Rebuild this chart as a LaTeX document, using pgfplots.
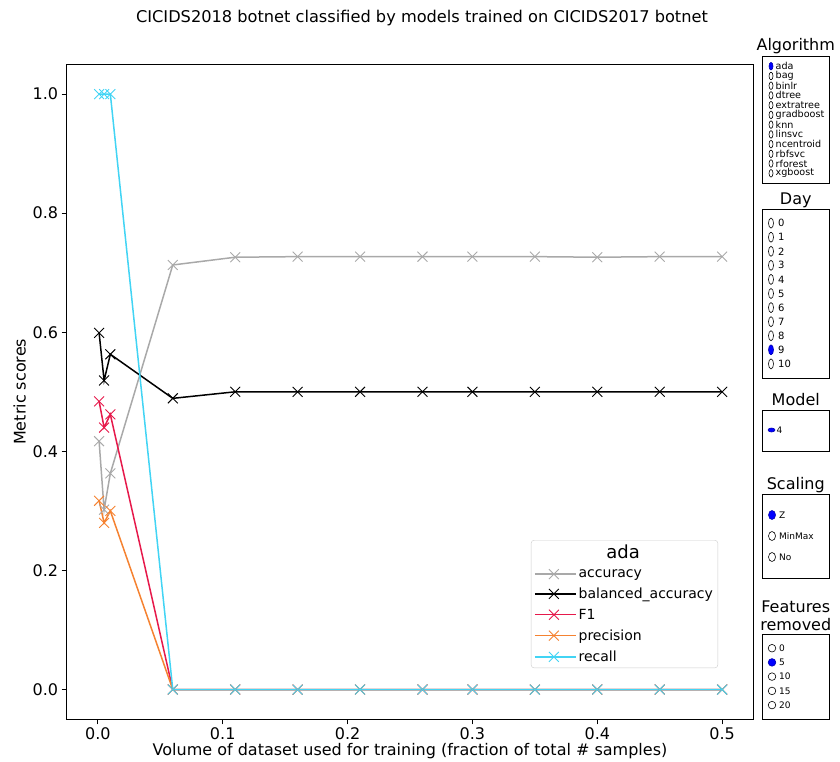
\documentclass[border=0pt]{standalone}
\usepackage{pgfplots}
\usepackage{pgfplotstable}
\pgfplotsset{compat=1.18}
\usepackage{fontspec}
\setmainfont{DejaVu Sans}

\definecolor{cacc}{HTML}{A9A9A9}
\definecolor{cbal}{HTML}{000000}
\definecolor{cfone}{HTML}{E6194B}
\definecolor{cprec}{HTML}{F58231}
\definecolor{crec}{HTML}{42D4F4}
\definecolor{legframe}{HTML}{CCCCCC}

% metric scores for the ada model against training volume
\pgfplotstableread{
frac    acc    bal    fone   prec   rec
0.001   0.417  0.599  0.484  0.317  1.0
0.005   0.302  0.519  0.440  0.280  1.0
0.010   0.363  0.563  0.462  0.300  1.0
0.060   0.713  0.489  0.0    0.0    0.0
0.110   0.726  0.500  0.0    0.0    0.0
0.160   0.727  0.500  0.0    0.0    0.0
0.210   0.727  0.500  0.0    0.0    0.0
0.260   0.727  0.500  0.0    0.0    0.0
0.300   0.727  0.500  0.0    0.0    0.0
0.350   0.727  0.500  0.0    0.0    0.0
0.400   0.726  0.500  0.0    0.0    0.0
0.450   0.727  0.500  0.0    0.0    0.0
0.500   0.727  0.500  0.0    0.0    0.0
}\scores

\newcommand\tickfont{\fontsize{16}{19}\selectfont}
\newcommand\panelfont{\fontsize{9.6}{11}\selectfont}
\newcommand\dayfont{\fontsize{10}{12}\selectfont}
\newcommand\smallpanelfont{\fontsize{9}{11}\selectfont}

\tikzset{optlabel/.style={anchor=west, inner sep=0pt}}

\pgfplotsset{
  radiopanel/.style={
    scale only axis, clip=false,
    xmin=762.5, xmax=829,
    y dir=reverse,
    xtick=\empty, ytick=\empty,
    axis line style={black, line width=0.8pt},
    title style={font=\fontsize{16}{19}\selectfont, at={(0.5,1)}, anchor=base, inner sep=0pt},
  },
  radio/.style={
    only marks, mark=*, mark size=1pt,
    mark options={draw=black, fill=white, line width=0.6pt, #1},
  },
  radioon/.style={
    only marks, mark=*, mark size=1pt,
    mark options={draw=blue!70!black, fill=blue, line width=0.6pt, #1},
  },
}

\begin{document}
\begin{tikzpicture}
\useasboundingbox (0pt,0pt) rectangle (840pt,-762pt);

\node[font=\fontsize{16.2}{19}\selectfont, anchor=center] at (422pt,-18pt)
  {CICIDS2018 botnet classified by models trained on CICIDS2017 botnet};

\begin{axis}[
  at={(66.7pt,-719.3pt)}, anchor=south west,
  scale only axis, width=686.6pt, height=655pt,
  xmin=-0.02495, xmax=0.52495, ymin=-0.05, ymax=1.05,
  xtick={0,0.1,0.2,0.3,0.4,0.5},
  ytick={0,0.2,0.4,0.6,0.8,1.0},
  xticklabels={0.0,0.1,0.2,0.3,0.4,0.5},
  yticklabels={0.0,0.2,0.4,0.6,0.8,1.0},
  xtick pos=bottom, ytick pos=left,
  tick align=outside, major tick length=5pt,
  tick style={black, line width=0.8pt},
  axis line style={black, line width=0.8pt},
  tick label style={font=\tickfont},
  xlabel={Volume of dataset used for training (fraction of total \# samples)},
  ylabel={Metric scores},
  label style={font=\tickfont},
  xlabel style={yshift=3pt},
  mark size=7pt,
  legend cell align=left,
  legend style={
    at={(0.9486,0.2737)}, anchor=north east,
    draw=legframe, rounded corners=3pt, fill=white,
    font=\fontsize{14}{16}\selectfont,
    row sep=5pt, inner sep=3pt,
  },
  legend image code/.code={
    \path (0pt,0pt) -- (41pt,0pt);
    \draw[mark repeat=2, mark phase=2, #1]
      plot coordinates {(3pt,0pt) (19pt,0pt) (35pt,0pt)};
  },
]
\addlegendimage{empty legend}
\addlegendentry{\makebox[89pt][c]{\fontsize{18}{21}\selectfont\rule[-5pt]{0pt}{17pt}ada}}

\addplot[color=cacc, line width=1.5pt, mark=x, mark options={solid, line width=0.9pt}]
  table[x=frac, y=acc] {\scores};
\addlegendentry{accuracy}
\addplot[color=cbal, line width=1.5pt, mark=x, mark options={solid, line width=0.9pt}]
  table[x=frac, y=bal] {\scores};
\addlegendentry{balanced\_accuracy}
\addplot[color=cfone, line width=1.5pt, mark=x, mark options={solid, line width=0.9pt}]
  table[x=frac, y=fone] {\scores};
\addlegendentry{F1}
\addplot[color=cprec, line width=1.5pt, mark=x, mark options={solid, line width=0.9pt}]
  table[x=frac, y=prec] {\scores};
\addlegendentry{precision}
\addplot[color=crec, line width=1.5pt, mark=x, mark options={solid, line width=0.9pt}]
  table[x=frac, y=rec] {\scores};
\addlegendentry{recall}
\end{axis}

% selector panels
\begin{axis}[radiopanel,
  at={(762.5pt,-183pt)}, anchor=south west, width=66.5pt, height=126.5pt,
  ymin=56.5, ymax=183, title={Algorithm}, title style={yshift=0pt},
]
\addplot[radioon={xscale=2, yscale=3.8}] coordinates {(771,66.2)};
\addplot[radio={xscale=2, yscale=3.8}] coordinates {
  (771,76.0) (771,85.7) (771,95.4) (771,105.2) (771,114.9)
  (771,124.6) (771,134.4) (771,144.1) (771,153.8) (771,163.5)
  (771,173.3)};
\begin{scope}[every node/.style={optlabel, font=\panelfont}]
\node at (axis cs:775.5,66.2) {ada};
\node at (axis cs:775.5,76.0) {bag};
\node at (axis cs:775.5,85.7) {binlr};
\node at (axis cs:775.5,95.4) {dtree};
\node at (axis cs:775.5,105.2) {extratree};
\node at (axis cs:775.5,114.9) {gradboost};
\node at (axis cs:775.5,124.6) {knn};
\node at (axis cs:775.5,134.4) {linsvc};
\node at (axis cs:775.5,144.1) {ncentroid};
\node at (axis cs:775.5,153.8) {rbfsvc};
\node at (axis cs:775.5,163.5) {rforest};
\node at (axis cs:775.5,173.3) {xgboost};
\end{scope}
\end{axis}

\begin{axis}[radiopanel,
  at={(762.5pt,-378pt)}, anchor=south west, width=66.5pt, height=169pt,
  ymin=209, ymax=378, title={Day}, title style={yshift=-1.5pt},
]
\addplot[radio={xscale=2.5, yscale=5}] coordinates {
  (771,223.1) (771,237.2) (771,251.3) (771,265.3) (771,279.4) (771,293.5)
  (771,307.6) (771,321.7) (771,335.7) (771,363.9)};
\addplot[radioon={xscale=2.5, yscale=5}] coordinates {(771,349.8)};
\begin{scope}[every node/.style={optlabel, font=\dayfont}]
\node at (axis cs:778,223.1) {0};
\node at (axis cs:778,237.2) {1};
\node at (axis cs:778,251.3) {2};
\node at (axis cs:778,265.3) {3};
\node at (axis cs:778,279.4) {4};
\node at (axis cs:778,293.5) {5};
\node at (axis cs:778,307.6) {6};
\node at (axis cs:778,321.7) {7};
\node at (axis cs:778,335.7) {8};
\node at (axis cs:778,349.8) {9};
\node at (axis cs:778,363.9) {10};
\end{scope}
\end{axis}

\begin{axis}[radiopanel,
  at={(762.5pt,-451pt)}, anchor=south west, width=66.5pt, height=41pt,
  ymin=410, ymax=451, title={Model}, title style={yshift=-1.5pt},
]
\addplot[radioon={xscale=3.5, yscale=2}] coordinates {(771.5,430)};
\node[optlabel, font=\smallpanelfont] at (axis cs:776.5,430) {4};
\end{axis}

\begin{axis}[radiopanel,
  at={(762.5pt,-578pt)}, anchor=south west, width=66.5pt, height=84pt,
  ymin=494, ymax=578, title={Scaling}, title style={yshift=-1.5pt},
]
\addplot[radioon={xscale=3.5, yscale=4.5}] coordinates {(772,515)};
\addplot[radio={xscale=3.5, yscale=4.5}] coordinates {(772,536) (772,557)};
\begin{scope}[every node/.style={optlabel, font=\smallpanelfont}]
\node at (axis cs:779,515) {Z};
\node at (axis cs:779,536) {MinMax};
\node at (axis cs:779,557) {No};
\end{scope}
\end{axis}

\begin{axis}[radiopanel,
  at={(762.5pt,-719.3pt)}, anchor=south west, width=66.5pt, height=85.3pt,
  ymin=634, ymax=719.3, title={Features\\removed},
  title style={align=center, anchor=south, yshift=-3pt, font=\fontsize{16}{18}\selectfont},
]
\addplot[radio={xscale=3.8, yscale=3.8}] coordinates {(772,648.2) (772,676.6) (772,690.9) (772,705.1)};
\addplot[radioon={xscale=3.8, yscale=3.8}] coordinates {(772,662.4)};
\begin{scope}[every node/.style={optlabel, font=\smallpanelfont}]
\node at (axis cs:779,648.2) {0};
\node at (axis cs:779,662.4) {5};
\node at (axis cs:779,676.6) {10};
\node at (axis cs:779,690.9) {15};
\node at (axis cs:779,705.1) {20};
\end{scope}
\end{axis}
\end{tikzpicture}
\end{document}
